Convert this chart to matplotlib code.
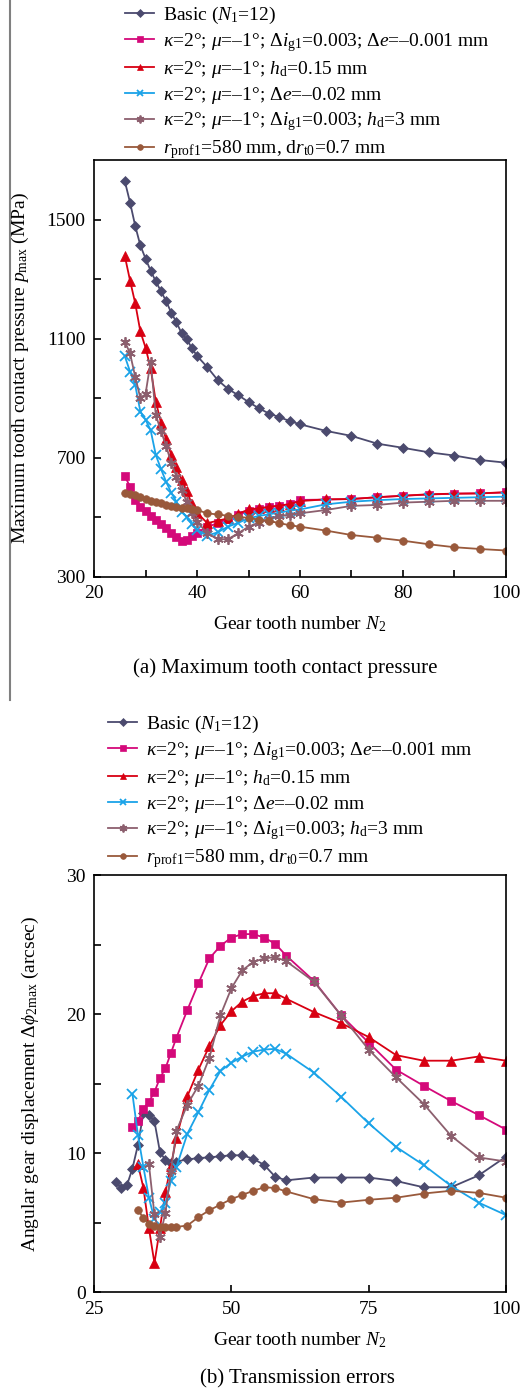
import numpy as np
import matplotlib
matplotlib.use('Agg')
import matplotlib.pyplot as plt

plt.rcParams['font.family'] = ['Liberation Serif', 'DejaVu Serif']
plt.rcParams['mathtext.fontset'] = 'custom'
plt.rcParams['mathtext.rm'] = 'Liberation Serif'
plt.rcParams['mathtext.it'] = 'Liberation Serif:italic'
plt.rcParams['mathtext.bf'] = 'Liberation Serif:bold'

# ---------------- data: (a) maximum tooth contact pressure ----------------
n_top = [26, 27, 28, 29, 30, 31, 32, 33, 34, 35, 36, 37, 38, 39, 40,
         42, 44, 46, 48, 50, 52, 54, 56, 58, 60,
         65, 70, 75, 80, 85, 90, 95, 100]
p_basic = [1628, 1557, 1479, 1413, 1369, 1328, 1292, 1259, 1226, 1187, 1155, 1118, 1098, 1068, 1042,
           1004, 961, 931, 910, 887, 866, 848, 836, 823, 812,
           790, 773, 747, 733, 718, 707, 692, 683]
p_pink = [638, 602, 558, 535, 522, 505, 491, 477, 463, 448, 434, 421, 423, 437, 448,
          466, 481, 493, 508, 520, 528, 534, 538, 543, 558,
          559, 561, 567, 572, 576, 579, 580, 583]
p_red = [1376, 1295, 1219, 1124, 1070, 1000, 888, 818, 762, 710, 668, 625, 588, 545, 515,
         480, 488, 496, 511, 526, 530, 535, 539, 544, 554,
         560, 561, 567, 572, 577, 579, 580, 584]
p_blue = [1040, 989, 944, 855, 828, 792, 709, 662, 619, 582, 552, 518, 500, 477, 457,
          438, 449, 468, 481, 496, 504, 510, 515, 522, 526,
          543, 552, 557, 561, 563, 565, 567, 569]
p_purple = [1090, 1050, 972, 900, 913, 1023, 843, 790, 739, 683, 636, 592, 552, 513, 485,
            446, 426, 426, 446, 468, 482, 495, 504, 507, 513,
            524, 538, 541, 549, 552, 555, 555, 555]
p_brown = [580, 578, 574, 567, 560, 555, 550, 547, 541, 537, 535, 532, 530, 526, 524,
           513, 509, 505, 502, 497, 492, 487, 480, 473, 468,
           455, 440, 431, 421, 409, 399, 393, 388]

# ---------------- data: (b) transmission errors ----------------
n_b_basic = [29, 30, 31, 32, 33, 34, 35, 36, 37, 38, 39, 40,
             42, 44, 46, 48, 50, 52, 54, 56, 58, 60,
             65, 70, 75, 80, 85, 90, 95, 100]
e_basic = [7.9, 7.5, 7.7, 8.9, 10.6, 12.9, 12.75, 12.3, 10.1, 9.5, 9.3, 9.4,
           9.55, 9.65, 9.7, 9.78, 9.85, 9.85, 9.6, 9.15, 8.3, 8.05,
           8.25, 8.25, 8.25, 8.0, 7.55, 7.55, 8.4, 9.75]
n_b_pink = [32, 33, 34, 35, 36, 37, 38, 39, 40,
            42, 44, 46, 48, 50, 52, 54, 56, 58, 60,
            65, 70, 75, 80, 85, 90, 95, 100]
e_pink = [11.85, 12.3, 13.2, 13.7, 14.4, 15.4, 16.1, 17.2, 18.3,
          20.3, 22.2, 24.0, 24.9, 25.5, 25.75, 25.75, 25.5, 25.05, 24.2,
          22.4, 19.9, 17.95, 16.0, 14.85, 13.75, 12.75, 11.7]
n_b_red = [33, 34, 35, 36, 37, 38, 39, 40,
           42, 44, 46, 48, 50, 52, 54, 56, 58, 60,
           65, 70, 75, 80, 85, 90, 95, 100]
e_red = [9.2, 7.5, 4.6, 2.1, 4.6, 7.2, 9.1, 11.1,
         14.1, 16.0, 17.7, 19.2, 20.2, 20.9, 21.3, 21.5, 21.5, 21.1,
         20.15, 19.35, 18.35, 17.05, 16.65, 16.65, 16.95, 16.65]
n_b_blue = [32, 33, 34, 35, 36, 37, 38, 39, 40,
            42, 44, 46, 48, 50, 52, 54, 56, 58, 60,
            65, 70, 75, 80, 85, 90, 95, 100]
e_blue = [14.25, 11.3, 9.0, 6.8, 5.25, 5.75, 6.4, 8.0, 9.0,
          11.4, 12.95, 14.55, 15.9, 16.5, 16.95, 17.3, 17.45, 17.5, 17.15,
          15.8, 14.05, 12.15, 10.45, 9.15, 7.65, 6.45, 5.55]
n_b_purple = [35, 36, 37, 38, 39, 40,
              42, 44, 46, 48, 50, 52, 54, 56, 58, 60,
              65, 70, 75, 80, 85, 90, 95, 100]
e_purple = [9.2, 5.6, 4.0, 5.7, 8.7, 11.6,
            13.5, 14.85, 16.85, 19.9, 21.85, 23.15, 23.75, 24.0, 24.1, 23.8,
            22.35, 19.9, 17.45, 15.45, 13.55, 11.25, 9.7, 9.4]
n_b_brown = [33, 34, 35, 36, 37, 38, 39, 40,
             42, 44, 46, 48, 50, 52, 54, 56, 58, 60,
             65, 70, 75, 80, 85, 90, 95, 100]
e_brown = [5.9, 5.35, 4.9, 4.75, 4.7, 4.7, 4.7, 4.7,
           4.8, 5.4, 5.9, 6.3, 6.7, 7.0, 7.3, 7.55, 7.5, 7.25,
           6.7, 6.45, 6.65, 6.8, 7.1, 7.3, 7.15, 6.8]

labels = [
    r'Basic ($N_1$=12)',
    r'$\kappa$=2°; $\mu$=–1°; Δ$i_{\rm g1}$=0.003; Δ$e$=–0.001 mm',
    r'$\kappa$=2°; $\mu$=–1°; $h_{\rm d}$=0.15 mm',
    r'$\kappa$=2°; $\mu$=–1°; Δ$e$=–0.02 mm',
    r'$\kappa$=2°; $\mu$=–1°; Δ$i_{\rm g1}$=0.003; $h_{\rm d}$=3 mm',
    r'$r_{\rm prof1}$=580 mm, d$r_{\rm t0}$=0.7 mm',
]
colors = ['#4b4a6e', '#d4097a', '#d80012', '#1aa3e8', '#8c5f6e', '#99593b']
markers = ['D', 's', '^', 'x', (6, 2, 0), 'o']
msizes = [5, 5.5, 6.5, 6.5, 7.5, 5.5]

W, H = 527, 1392
fig = plt.figure(figsize=(W / 100, H / 100), dpi=100)


def fx(px):
    return px / W


def fy(py):
    return 1 - py / H


ax1 = fig.add_axes([fx(94), fy(576.7), fx(412), 416.7 / H])
ax2 = fig.add_axes([fx(94), fy(1292.3), fx(412), 417.3 / H])

top_series = [p_basic, p_pink, p_red, p_blue, p_purple, p_brown]
handles = []
for vals, c, m, ms, lab in zip(top_series, colors, markers, msizes, labels):
    h, = ax1.plot(n_top, vals, color=c, marker=m, markersize=ms, lw=1.3,
                  markeredgewidth=1.3 if m in ('x', (6, 2, 0)) else 0.5,
                  label=lab)
    handles.append(h)

bot_series = [(n_b_basic, e_basic), (n_b_pink, e_pink), (n_b_red, e_red),
              (n_b_blue, e_blue), (n_b_purple, e_purple), (n_b_brown, e_brown)]
for (nn, vals), c, m, ms, lab in zip(bot_series, colors, markers, msizes, labels):
    ax2.plot(nn, vals, color=c, marker=m, markersize=ms, lw=1.3,
             markeredgewidth=1.3 if m in ('x', (6, 2, 0)) else 0.5, label=lab)

fs = 14
for ax in (ax1, ax2):
    for s in ax.spines.values():
        s.set_linewidth(1.2)
    ax.tick_params(which='both', direction='in', top=False, right=False,
                   labelsize=fs, width=1.2, length=5)
    ax.tick_params(axis='x', which='both', pad=6)
    ax.tick_params(axis='y', which='both', pad=6)

ax1.set_xlim(20, 100)
ax1.set_ylim(300, 1700)
ax1.set_xticks([20, 40, 60, 80, 100])
ax1.set_xticks([30, 50, 70, 90], minor=True)
ax1.set_yticks([300, 700, 1100, 1500])
ax1.set_yticks([500, 900, 1300], minor=True)
ax1.set_xlabel(r'Gear tooth number $N_2$', fontsize=fs, labelpad=9)
ax1.set_ylabel(r'Maximum tooth contact pressure $p_{\rm max}$ (MPa)', fontsize=fs)
ax1.yaxis.set_label_coords(-(94 - 31) / 412, 0.5)

ax2.set_xlim(25, 100)
ax2.set_ylim(0, 30)
ax2.set_xticks([25, 50, 75, 100])
ax2.set_yticks([0, 10, 20, 30])
ax2.set_yticks([5, 15, 25], minor=True)
ax2.set_xlabel(r'Gear tooth number $N_2$', fontsize=fs, labelpad=9)
ax2.set_ylabel(r'Angular gear displacement Δ$\phi_{\rm 2max}$ (arcsec)', fontsize=fs)
ax2.yaxis.set_label_coords(-(94 - 41) / 412, 0.5)

leg_kw = dict(frameon=False, borderpad=0, borderaxespad=0, handlelength=1.5,
              handletextpad=0.45, labelspacing=0.25, fontsize=fs, markerscale=0.75)
fig.legend(handles=handles, loc='upper left',
           bbox_to_anchor=(fx(125), fy(5)), **leg_kw)
fig.legend(handles=handles, loc='upper left',
           bbox_to_anchor=(fx(108), fy(714)), **leg_kw)

fig.text(fx(285), fy(668), '(a) Maximum tooth contact pressure',
         ha='center', va='center', fontsize=15)
fig.text(fx(297), fy(1379), '(b) Transmission errors',
         ha='center', va='center', fontsize=15)

# page edge line at the left of the upper panel
fig.add_artist(plt.Line2D([fx(10), fx(10)], [fy(0), fy(700)],
                          color='#808080', lw=1.5))

fig.savefig('out.png', dpi=100)
